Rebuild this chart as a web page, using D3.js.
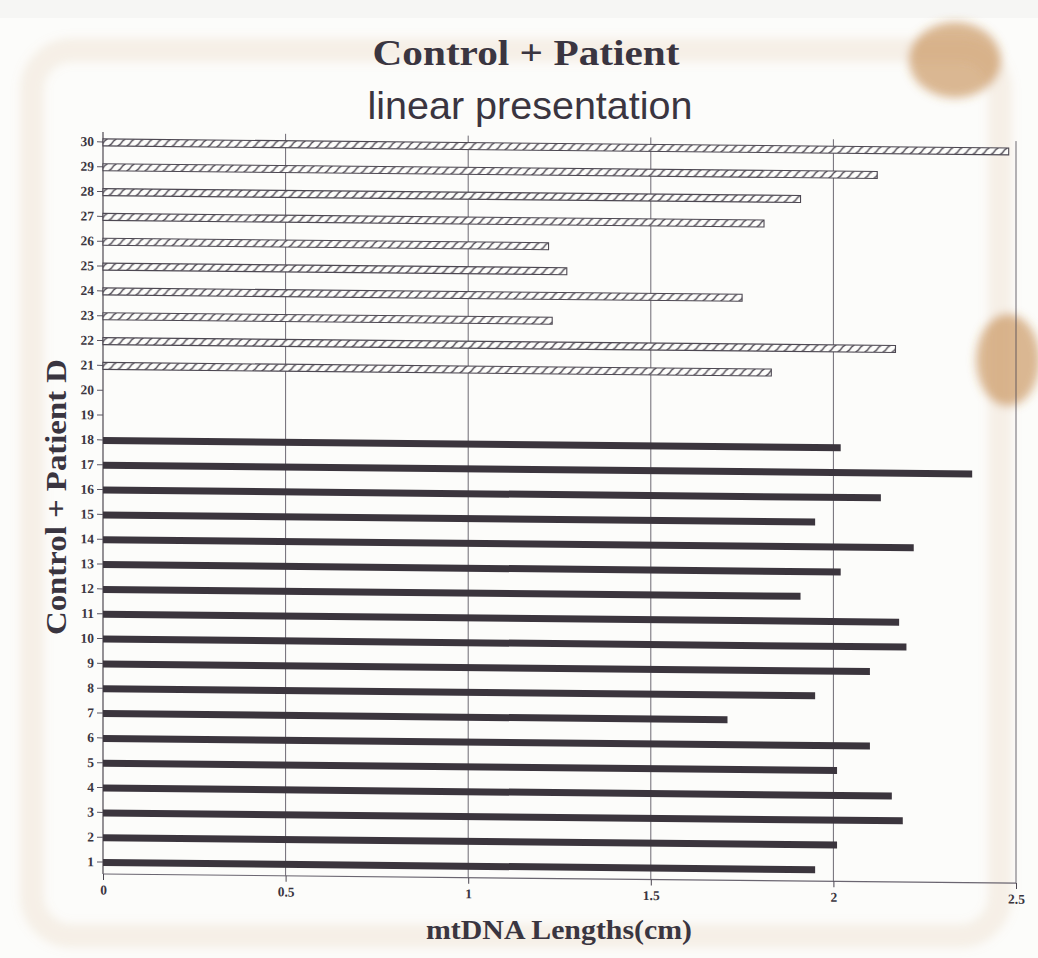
<!DOCTYPE html>
<html>
<head>
<meta charset="utf-8">
<script src="https://cdn.jsdelivr.net/npm/d3@7/dist/d3.min.js"></script>
<style>
  html, body { margin: 0; padding: 0; background: #f6f6f4; }
  svg { display: block; }
</style>
</head>
<body>
<svg id="chart" width="1038" height="958"></svg>
<script>
// Row numbers shown on the vertical axis
const rowTicks = d3.range(1, 31);
// Horizontal axis ticks (cm)
const lengthTicks = [0, 0.5, 1, 1.5, 2, 2.5];
const lengthTickLabels = ["0", "0.5", "1", "1.5", "2", "2.5"];

// Control molecules (rows 1-18), mtDNA length in cm
const controlRows = [1, 2, 3, 4, 5, 6, 7, 8, 9, 10, 11, 12, 13, 14, 15, 16, 17, 18];
const controlLengths = [1.95, 2.01, 2.19, 2.16, 2.01, 2.10, 1.71, 1.95, 2.10, 2.20,
                        2.18, 1.91, 2.02, 2.22, 1.95, 2.13, 2.38, 2.02];

// Patient D molecules (rows 21-30), mtDNA length in cm
const patientRows = [21, 22, 23, 24, 25, 26, 27, 28, 29, 30];
const patientLengths = [1.83, 2.17, 1.23, 1.75, 1.27, 1.22, 1.81, 1.91, 2.12, 2.48];

const svg = d3.select("#chart");

// paper
svg.append("rect").attr("x", 0).attr("y", 18).attr("width", 1038).attr("height", 940)
  .attr("fill", "#fcfcfa");

// faint brown stain around the sheet
const defs = svg.append("defs");
defs.append("filter").attr("id", "soft")
  .attr("x", "-20%").attr("y", "-20%").attr("width", "140%").attr("height", "140%")
  .append("feGaussianBlur").attr("stdDeviation", 5);

const stain = svg.append("g").attr("filter", "url(#soft)");
stain.append("rect")
  .attr("x", 32).attr("y", 50).attr("width", 968).attr("height", 886)
  .attr("rx", 40)
  .attr("fill", "none")
  .attr("stroke", "rgba(210,175,130,0.16)")
  .attr("stroke-width", 24);
stain.append("ellipse").attr("cx", 955).attr("cy", 60).attr("rx", 46).attr("ry", 38)
  .attr("fill", "rgba(185,115,45,0.5)");
stain.append("ellipse").attr("cx", 1008).attr("cy", 360).attr("rx", 32).attr("ry", 46)
  .attr("fill", "rgba(185,115,45,0.5)");

// hatch pattern for patient bars
const barH = 7;
const hatch = defs.append("pattern").attr("id", "hatch")
  .attr("patternUnits", "userSpaceOnUse")
  .attr("width", 9).attr("height", barH);
hatch.append("rect").attr("width", 9).attr("height", barH).attr("fill", "#fdfdfb");
hatch.append("path")
  .attr("d", `M0.5,${barH} L3,${barH - 1.6} L6,1.6 L8.5,0`)
  .attr("fill", "none").attr("stroke", "#4d4852").attr("stroke-width", 1.3);

// scales
const x = d3.scaleLinear().domain([0, 2.5]).range([103, 1016]);
const y = d3.scaleLinear().domain([0.5, 30.5]).range([874, 129]);

// plot (slightly sheared, as printed)
const plot = svg.append("g")
  .attr("transform", `translate(${x(0)},0) skewY(0.57) translate(${-x(0)},0)`);

// vertical grid
plot.append("g").selectAll("line")
  .data(lengthTicks.slice(1))
  .join("line")
  .attr("x1", d => x(d)).attr("x2", d => x(d))
  .attr("y1", 132).attr("y2", y(0.5))
  .attr("stroke", "#4a4550").attr("stroke-width", 0.8);

const serif = "'Liberation Serif', 'Times New Roman', serif";

// y axis
const yAxis = plot.append("g")
  .attr("transform", `translate(${x(0)},0)`)
  .call(d3.axisLeft(y).tickValues(rowTicks).tickFormat(d3.format("d")).tickSize(6).tickPadding(3));
yAxis.select(".domain").attr("d", `M0,132V${y(0.5)}`).attr("stroke", "#3d3840").attr("stroke-width", 1.1);
yAxis.selectAll(".tick line").attr("stroke", "#5a5560");
yAxis.selectAll(".tick text")
  .attr("font-family", serif)
  .attr("font-weight", "bold").attr("font-size", 13.5).attr("fill", "#3a3540");

// x axis
const xAxis = plot.append("g")
  .attr("transform", `translate(0,${y(0.5)})`)
  .call(d3.axisBottom(x).tickValues(lengthTicks)
    .tickFormat((d, i) => lengthTickLabels[i]).tickSize(6).tickPadding(5));
xAxis.select(".domain").attr("d", `M${x(0)},0H${x(2.5)}`).attr("stroke", "#6a6570").attr("stroke-width", 1.2);
xAxis.selectAll(".tick line").attr("stroke", "#4a4550");
xAxis.selectAll(".tick text")
  .attr("font-family", serif)
  .attr("font-weight", "bold").attr("font-size", 13.5).attr("fill", "#3a3540");

// control bars (solid)
const control = controlRows.map((r, i) => ({ row: r, len: controlLengths[i] }));
plot.append("g").selectAll("rect")
  .data(control)
  .join("rect")
  .attr("x", x(0))
  .attr("y", d => y(d.row) - 2.5)
  .attr("width", d => x(d.len) - x(0))
  .attr("height", 7)
  .attr("fill", "#3b353d");

// patient bars (hatched)
const patient = patientRows.map((r, i) => ({ row: r, len: patientLengths[i] }));
plot.append("g").selectAll("g")
  .data(patient)
  .join("g")
  .attr("transform", d => `translate(0,${y(d.row) - barH / 2 + 1})`)
  .append("rect")
  .attr("x", x(0))
  .attr("y", 0)
  .attr("width", d => x(d.len) - x(0))
  .attr("height", barH)
  .attr("fill", "url(#hatch)")
  .attr("stroke", "#4d4852")
  .attr("stroke-width", 1.1);

// titles
svg.append("text")
  .attr("x", 526).attr("y", 65)
  .attr("text-anchor", "middle")
  .attr("font-family", serif)
  .attr("font-weight", "bold").attr("font-size", 35)
  .attr("textLength", 307).attr("lengthAdjust", "spacingAndGlyphs")
  .attr("fill", "#3a3540")
  .text("Control + Patient");

svg.append("text")
  .attr("x", 530).attr("y", 119)
  .attr("text-anchor", "middle")
  .attr("font-family", "'Liberation Sans', Arial, sans-serif")
  .attr("font-size", 39.5)
  .attr("fill", "#3a3540")
  .text("linear presentation");

// axis titles
svg.append("text")
  .attr("transform", "translate(66,497) rotate(-90)")
  .attr("text-anchor", "middle")
  .attr("font-family", serif)
  .attr("font-weight", "bold").attr("font-size", 29)
  .attr("textLength", 276).attr("lengthAdjust", "spacingAndGlyphs")
  .attr("fill", "#3a3540")
  .text("Control + Patient D");

svg.append("text")
  .attr("x", 559).attr("y", 939)
  .attr("text-anchor", "middle")
  .attr("font-family", serif)
  .attr("font-weight", "bold").attr("font-size", 27)
  .attr("textLength", 266).attr("lengthAdjust", "spacingAndGlyphs")
  .attr("fill", "#3a3540")
  .text("mtDNA Lengths(cm)");
</script>
</body>
</html>
